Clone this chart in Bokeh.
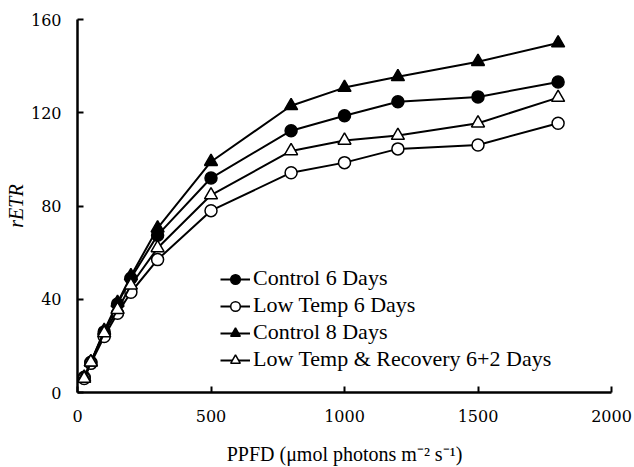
from bokeh.plotting import figure
from bokeh.models import Legend, LegendItem, FixedTicker, Range1d, Label
from bokeh.embed import file_html
from bokeh.resources import INLINE

ppfd = [25, 50, 100, 150, 200, 300, 500, 800, 1000, 1200, 1500, 1800]
control_6 = [6.5, 13, 26, 38, 49, 67.5, 92, 112.3, 118.7, 124.7, 126.8, 133.2]
low_temp_6 = [6, 12.5, 24, 34, 43, 57, 78, 94.3, 98.6, 104.5, 106.2, 115.5]
control_8 = [6.5, 13, 26.5, 38.5, 50, 70.5, 99, 123, 130.8, 135.4, 141.9, 149.9]
recovery_6_2 = [6, 13, 25.5, 35.5, 46, 62, 84.7, 103.6, 108.1, 110.2, 115.5, 126.5]

labels = ["Control 6 Days", "Low Temp 6 Days", "Control 8 Days",
          "Low Temp & Recovery 6+2 Days"]
x_ticks = [0, 500, 1000, 1500, 2000]
y_ticks = [0, 40, 80, 120, 160]

FONT = "'Liberation Serif', 'Times New Roman', serif"
TICK_FONT = "DejaVu Serif"

p = figure(width=634, height=467, output_backend="svg", toolbar_location=None,
           x_range=Range1d(0, 2000), y_range=Range1d(0, 160),
           min_border_left=77, min_border_right=23, min_border_top=19,
           min_border_bottom=70)
p.outline_line_color = None
p.xgrid.visible = False
p.ygrid.visible = False
p.background_fill_color = "white"
p.border_fill_color = "white"

series = [
    (control_6, "circle", "black", 12),
    (low_temp_6, "circle", "white", 12),
    (control_8, "triangle", "black", 13),
    (recovery_6_2, "triangle", "white", 13),
]
items = []
for (ys, marker, fill, size) in series:
    lr = p.line(ppfd, ys, line_color="black", line_width=2)
    sr = p.scatter(ppfd, ys, marker=marker, size=size, fill_color=fill,
                   line_color="black", line_width=1.5)
    items.append(LegendItem(label="", renderers=[lr, sr]))

# legend glyphs (the texts are drawn as labels below)
legend = Legend(items=items, location=(143, 20), orientation="vertical",
                border_line_alpha=0, background_fill_alpha=0,
                padding=0, margin=0, spacing=3,
                glyph_width=30, glyph_height=24, label_height=24,
                label_standoff=0, label_text_font_size="1px")
p.add_layout(legend, "center")

# legend texts
row_offsets = [115.5, 88.2, 60.9, 33.6]
for lab, dy in zip(labels, row_offsets):
    p.add_layout(Label(x=0, y=0, x_offset=175.5, y_offset=dy, text=lab,
                       text_font=FONT, text_font_size="22px",
                       text_color="black", text_align="left",
                       text_baseline="middle"))

for ax in (p.xaxis, p.yaxis):
    ax.axis_line_width = 2.5
    ax.axis_line_color = "black"
    ax.major_tick_in = 6
    ax.major_tick_out = 0
    ax.major_tick_line_width = 2
    ax.minor_tick_line_color = None
    ax.major_label_text_font = TICK_FONT
    ax.major_label_text_font_size = "16px"
    ax.major_label_text_font_style = "normal"
    ax.major_label_text_color = "black"
    ax.axis_label_text_font = FONT
    ax.axis_label_text_font_size = "20px"
    ax.axis_label_text_color = "black"

p.xaxis.ticker = FixedTicker(ticks=x_ticks)
p.yaxis.ticker = FixedTicker(ticks=y_ticks)
p.xaxis.major_label_standoff = 17
p.yaxis.major_label_standoff = 16

p.xaxis.axis_label = "PPFD (\u03bcmol photons m\u207b\u00b2 s\u207b\u00b9)"
p.yaxis.axis_label = "rETR"
p.xaxis.axis_label_text_font_style = "normal"
p.yaxis.axis_label_text_font_style = "italic"
p.xaxis.axis_label_standoff = 18
p.yaxis.axis_label_standoff = 1

open("out.html", "w").write(file_html(p, INLINE))
